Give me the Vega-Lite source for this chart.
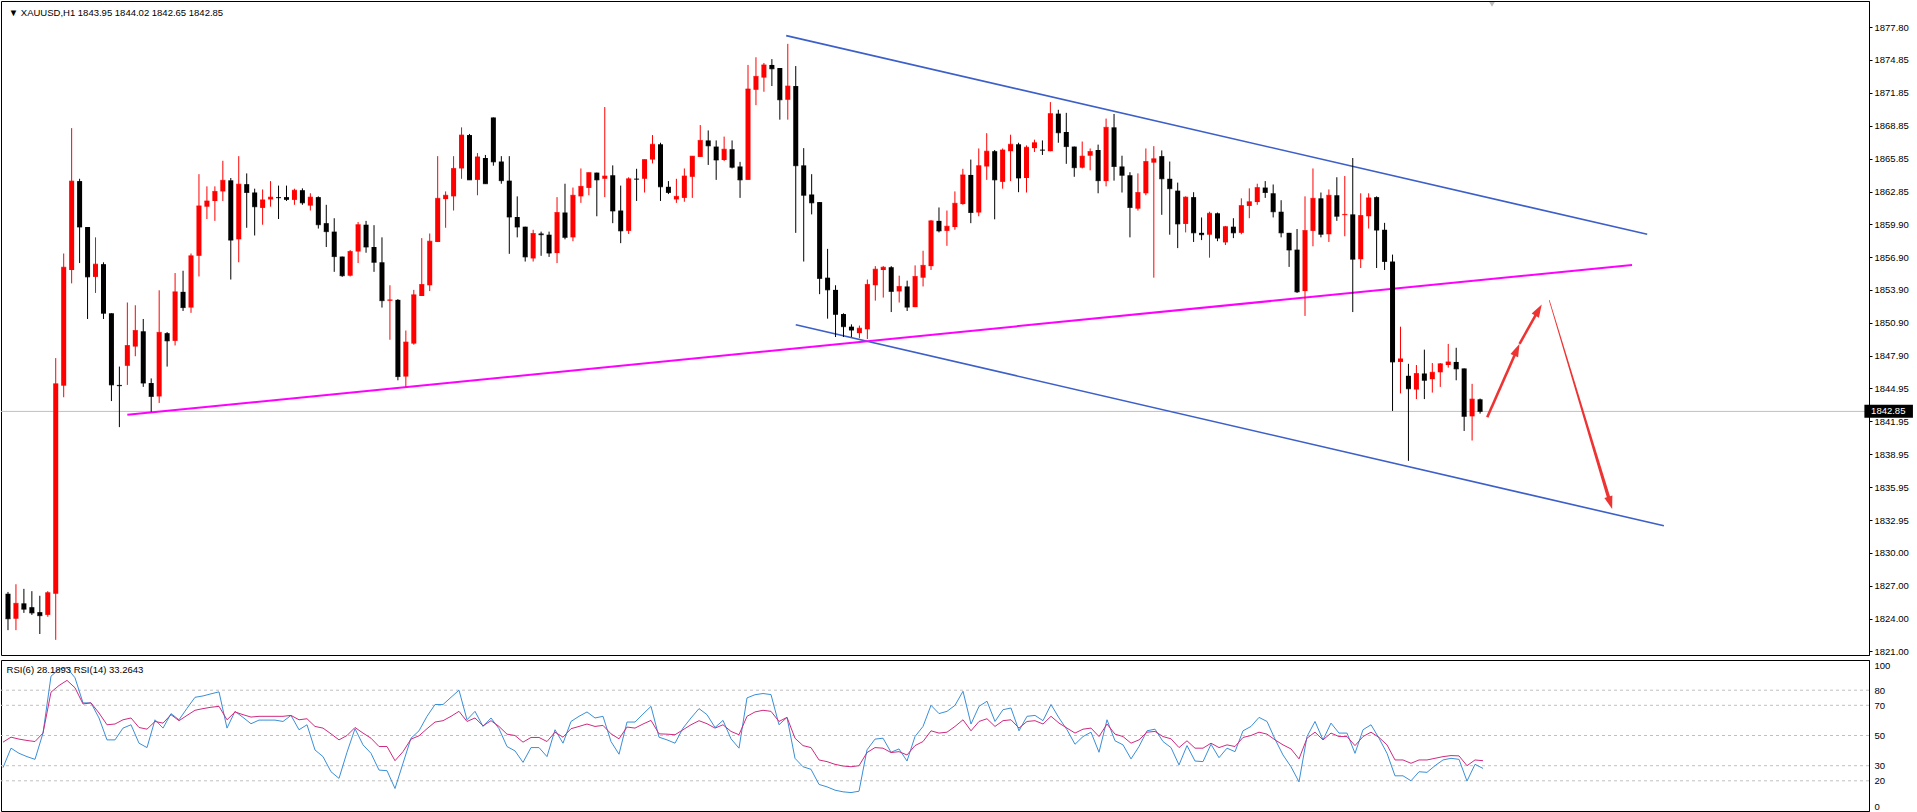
{
"$schema":"https://vega.github.io/schema/vega-lite/v6.json",
"padding":0,
"background":"#ffffff",
"spacing":2,
"config":{"view":{"stroke":"#000000","strokeWidth":1},"axis":{"labelFont":"Liberation Sans","labelFontSize":9.5,"labelColor":"#000000","domainColor":"#000000","tickColor":"#000000","grid":false,"labelOverlap":false}},
"datasets":{
"one":[{}],
"candles":[
{"i":0,"o":1826.25,"h":1826.42,"l":1822.94,"c":1823.98,"r6":28.7,"r14":45.6},
{"i":1,"o":1823.98,"h":1827.12,"l":1822.94,"c":1825.38,"r6":41.6,"r14":48.9},
{"i":2,"o":1825.38,"h":1826.70,"l":1824.51,"c":1824.85,"r6":38.2,"r14":47.6},
{"i":3,"o":1825.03,"h":1826.49,"l":1824.33,"c":1824.51,"r6":36.0,"r14":46.7},
{"i":4,"o":1824.58,"h":1826.07,"l":1822.59,"c":1824.26,"r6":34.2,"r14":46.0},
{"i":5,"o":1824.33,"h":1826.49,"l":1824.16,"c":1826.35,"r6":51.6,"r14":51.6},
{"i":6,"o":1826.25,"h":1847.70,"l":1822.06,"c":1845.36,"r6":89.3,"r14":78.7},
{"i":7,"o":1845.19,"h":1857.22,"l":1844.14,"c":1855.97,"r6":93.8,"r14":83.1},
{"i":8,"o":1855.72,"h":1868.63,"l":1854.50,"c":1863.81,"r6":94.9,"r14":86.5},
{"i":9,"o":1863.81,"h":1864.02,"l":1856.35,"c":1859.63,"r6":88.2,"r14":81.6},
{"i":10,"o":1859.63,"h":1859.63,"l":1851.26,"c":1855.09,"r6":71.6,"r14":70.9},
{"i":11,"o":1855.09,"h":1858.69,"l":1853.63,"c":1856.25,"r6":71.6,"r14":71.6},
{"i":12,"o":1856.25,"h":1856.42,"l":1851.26,"c":1851.78,"r6":61.6,"r14":64.9},
{"i":13,"o":1851.78,"h":1851.78,"l":1843.79,"c":1845.26,"r6":47.1,"r14":57.1},
{"i":14,"o":1845.26,"h":1846.93,"l":1841.42,"c":1845.19,"r6":47.1,"r14":57.6},
{"i":15,"o":1847.00,"h":1852.76,"l":1845.26,"c":1848.85,"r6":54.9,"r14":60.4},
{"i":16,"o":1848.75,"h":1852.51,"l":1847.87,"c":1850.21,"r6":57.1,"r14":61.6},
{"i":17,"o":1850.14,"h":1851.26,"l":1845.08,"c":1845.43,"r6":44.9,"r14":55.3},
{"i":18,"o":1845.43,"h":1845.85,"l":1842.82,"c":1844.21,"r6":42.0,"r14":54.2},
{"i":19,"o":1844.21,"h":1853.87,"l":1843.62,"c":1850.04,"r6":60.4,"r14":59.3},
{"i":20,"o":1849.97,"h":1850.07,"l":1846.93,"c":1849.27,"r6":54.9,"r14":58.2},
{"i":21,"o":1849.27,"h":1855.44,"l":1848.85,"c":1853.73,"r6":64.5,"r14":63.8},
{"i":22,"o":1853.73,"h":1855.65,"l":1851.99,"c":1852.30,"r6":60.4,"r14":59.8},
{"i":23,"o":1852.30,"h":1857.22,"l":1851.82,"c":1857.01,"r6":68.0,"r14":63.3},
{"i":24,"o":1857.01,"h":1864.44,"l":1855.13,"c":1861.55,"r6":75.3,"r14":66.7},
{"i":25,"o":1861.48,"h":1863.33,"l":1860.36,"c":1862.00,"r6":76.2,"r14":67.8},
{"i":26,"o":1862.00,"h":1863.33,"l":1860.19,"c":1862.87,"r6":77.6,"r14":68.7},
{"i":27,"o":1862.87,"h":1865.66,"l":1862.00,"c":1863.88,"r6":78.9,"r14":69.3},
{"i":28,"o":1863.88,"h":1864.09,"l":1854.85,"c":1858.44,"r6":54.9,"r14":60.4},
{"i":29,"o":1858.51,"h":1866.08,"l":1856.42,"c":1863.53,"r6":66.0,"r14":65.6},
{"i":30,"o":1863.53,"h":1864.51,"l":1859.56,"c":1862.77,"r6":62.0,"r14":63.8},
{"i":31,"o":1862.77,"h":1863.12,"l":1858.86,"c":1861.48,"r6":57.8,"r14":62.2},
{"i":32,"o":1861.37,"h":1863.05,"l":1859.84,"c":1862.10,"r6":60.2,"r14":62.7},
{"i":33,"o":1862.14,"h":1863.81,"l":1861.48,"c":1862.35,"r6":60.2,"r14":62.7},
{"i":34,"o":1862.35,"h":1863.40,"l":1860.36,"c":1862.30,"r6":60.2,"r14":62.7},
{"i":35,"o":1862.35,"h":1863.40,"l":1862.00,"c":1862.14,"r6":59.3,"r14":62.7},
{"i":36,"o":1862.10,"h":1863.12,"l":1861.65,"c":1862.98,"r6":63.3,"r14":63.3},
{"i":37,"o":1862.98,"h":1863.15,"l":1861.65,"c":1861.83,"r6":53.8,"r14":60.4},
{"i":38,"o":1861.58,"h":1862.70,"l":1861.13,"c":1862.35,"r6":57.1,"r14":61.1},
{"i":39,"o":1862.35,"h":1862.42,"l":1859.49,"c":1859.84,"r6":40.4,"r14":56.0},
{"i":40,"o":1859.98,"h":1861.65,"l":1857.81,"c":1859.21,"r6":36.0,"r14":54.9},
{"i":41,"o":1859.21,"h":1860.43,"l":1855.55,"c":1856.94,"r6":26.0,"r14":51.1},
{"i":42,"o":1856.94,"h":1856.94,"l":1855.09,"c":1855.20,"r6":21.6,"r14":47.1},
{"i":43,"o":1855.20,"h":1857.54,"l":1855.13,"c":1857.40,"r6":38.9,"r14":50.0},
{"i":44,"o":1857.40,"h":1860.08,"l":1856.35,"c":1859.84,"r6":54.5,"r14":55.3},
{"i":45,"o":1859.84,"h":1860.19,"l":1857.29,"c":1857.81,"r6":43.8,"r14":51.6},
{"i":46,"o":1857.81,"h":1859.80,"l":1855.55,"c":1856.42,"r6":38.2,"r14":48.2},
{"i":47,"o":1856.42,"h":1858.69,"l":1852.30,"c":1852.93,"r6":27.1,"r14":42.7},
{"i":48,"o":1852.93,"h":1854.33,"l":1849.37,"c":1853.00,"r6":26.7,"r14":42.7},
{"i":49,"o":1853.00,"h":1853.07,"l":1845.68,"c":1846.02,"r6":14.9,"r14":33.3},
{"i":50,"o":1846.02,"h":1850.21,"l":1845.08,"c":1849.16,"r6":31.6,"r14":39.3},
{"i":51,"o":1849.02,"h":1853.91,"l":1848.92,"c":1853.46,"r6":48.2,"r14":47.6},
{"i":52,"o":1853.35,"h":1858.62,"l":1853.35,"c":1854.40,"r6":53.1,"r14":49.8},
{"i":53,"o":1854.33,"h":1859.04,"l":1853.80,"c":1858.34,"r6":62.7,"r14":54.5},
{"i":54,"o":1858.27,"h":1866.08,"l":1858.27,"c":1862.24,"r6":70.5,"r14":58.9},
{"i":55,"o":1862.17,"h":1862.87,"l":1859.56,"c":1862.52,"r6":70.5,"r14":59.8},
{"i":56,"o":1862.42,"h":1866.08,"l":1861.13,"c":1864.96,"r6":75.3,"r14":62.7},
{"i":57,"o":1864.96,"h":1868.70,"l":1864.02,"c":1868.00,"r6":80.0,"r14":66.0},
{"i":58,"o":1868.00,"h":1868.10,"l":1863.92,"c":1863.92,"r6":60.4,"r14":59.3},
{"i":59,"o":1863.92,"h":1866.36,"l":1862.52,"c":1866.01,"r6":66.0,"r14":61.6},
{"i":60,"o":1865.91,"h":1866.19,"l":1863.57,"c":1863.57,"r6":56.0,"r14":56.4},
{"i":61,"o":1869.60,"h":1869.60,"l":1865.21,"c":1865.56,"r6":61.6,"r14":59.8},
{"i":62,"o":1865.59,"h":1866.08,"l":1863.57,"c":1863.85,"r6":54.5,"r14":56.0},
{"i":63,"o":1863.85,"h":1866.08,"l":1857.19,"c":1860.54,"r6":42.7,"r14":50.9},
{"i":64,"o":1860.54,"h":1862.42,"l":1858.69,"c":1859.63,"r6":39.8,"r14":50.0},
{"i":65,"o":1859.66,"h":1859.66,"l":1856.49,"c":1856.91,"r6":32.2,"r14":45.6},
{"i":66,"o":1856.77,"h":1859.38,"l":1856.49,"c":1859.04,"r6":42.0,"r14":48.7},
{"i":67,"o":1859.04,"h":1859.21,"l":1857.01,"c":1858.93,"r6":42.0,"r14":48.7},
{"i":68,"o":1858.93,"h":1859.21,"l":1856.91,"c":1857.26,"r6":36.0,"r14":46.0},
{"i":69,"o":1857.26,"h":1862.35,"l":1856.35,"c":1860.95,"r6":53.8,"r14":52.2},
{"i":70,"o":1860.95,"h":1863.57,"l":1858.51,"c":1858.69,"r6":44.9,"r14":48.9},
{"i":71,"o":1858.69,"h":1863.22,"l":1858.34,"c":1862.52,"r6":59.3,"r14":54.5},
{"i":72,"o":1862.42,"h":1864.96,"l":1861.83,"c":1863.33,"r6":62.7,"r14":56.0},
{"i":73,"o":1863.19,"h":1864.58,"l":1862.52,"c":1864.58,"r6":65.6,"r14":57.6},
{"i":74,"o":1864.58,"h":1864.58,"l":1860.61,"c":1863.92,"r6":61.6,"r14":56.0},
{"i":75,"o":1864.02,"h":1870.55,"l":1862.35,"c":1864.27,"r6":62.7,"r14":56.7},
{"i":76,"o":1864.34,"h":1865.24,"l":1859.98,"c":1861.09,"r6":46.0,"r14":51.1},
{"i":77,"o":1861.13,"h":1863.40,"l":1858.16,"c":1859.28,"r6":37.6,"r14":47.8},
{"i":78,"o":1859.28,"h":1864.16,"l":1859.00,"c":1864.02,"r6":58.9,"r14":55.6},
{"i":79,"o":1864.02,"h":1864.93,"l":1862.00,"c":1863.98,"r6":58.9,"r14":54.9},
{"i":80,"o":1864.02,"h":1865.77,"l":1862.77,"c":1865.77,"r6":64.2,"r14":57.6},
{"i":81,"o":1865.77,"h":1868.00,"l":1865.42,"c":1867.16,"r6":69.3,"r14":60.0},
{"i":82,"o":1867.16,"h":1867.30,"l":1862.00,"c":1863.29,"r6":48.9,"r14":51.1},
{"i":83,"o":1863.29,"h":1863.81,"l":1862.63,"c":1862.77,"r6":47.1,"r14":50.9},
{"i":84,"o":1862.14,"h":1864.02,"l":1861.83,"c":1862.42,"r6":44.9,"r14":50.5},
{"i":85,"o":1862.28,"h":1864.96,"l":1861.93,"c":1864.27,"r6":54.9,"r14":53.8},
{"i":86,"o":1864.20,"h":1866.08,"l":1862.28,"c":1866.08,"r6":61.6,"r14":57.1},
{"i":87,"o":1866.01,"h":1868.91,"l":1866.01,"c":1867.51,"r6":67.8,"r14":59.8},
{"i":88,"o":1867.51,"h":1868.42,"l":1865.28,"c":1867.02,"r6":63.8,"r14":57.8},
{"i":89,"o":1866.95,"h":1867.51,"l":1863.92,"c":1865.73,"r6":55.3,"r14":54.9},
{"i":90,"o":1865.73,"h":1867.86,"l":1865.63,"c":1866.71,"r6":60.0,"r14":57.1},
{"i":91,"o":1866.71,"h":1867.51,"l":1864.96,"c":1865.07,"r6":47.8,"r14":52.7},
{"i":92,"o":1865.14,"h":1865.56,"l":1862.28,"c":1863.92,"r6":41.6,"r14":50.5},
{"i":93,"o":1863.92,"h":1874.38,"l":1863.92,"c":1872.19,"r6":74.9,"r14":62.7},
{"i":94,"o":1872.12,"h":1875.08,"l":1870.72,"c":1873.34,"r6":77.0,"r14":65.6},
{"i":95,"o":1873.23,"h":1874.56,"l":1871.94,"c":1874.38,"r6":77.8,"r14":66.7},
{"i":96,"o":1874.38,"h":1874.91,"l":1872.46,"c":1874.03,"r6":77.1,"r14":66.0},
{"i":97,"o":1874.10,"h":1874.10,"l":1869.40,"c":1871.21,"r6":57.1,"r14":59.3},
{"i":98,"o":1871.21,"h":1876.30,"l":1869.40,"c":1872.46,"r6":62.0,"r14":62.0},
{"i":99,"o":1872.46,"h":1874.28,"l":1859.10,"c":1865.21,"r6":34.9,"r14":48.2},
{"i":100,"o":1865.24,"h":1866.81,"l":1856.49,"c":1862.52,"r6":29.3,"r14":43.3},
{"i":101,"o":1862.59,"h":1864.44,"l":1860.78,"c":1861.83,"r6":27.6,"r14":42.0},
{"i":102,"o":1861.90,"h":1861.90,"l":1853.52,"c":1854.95,"r6":17.6,"r14":33.8},
{"i":103,"o":1855.02,"h":1857.64,"l":1851.29,"c":1853.91,"r6":16.0,"r14":32.7},
{"i":104,"o":1853.91,"h":1854.33,"l":1849.62,"c":1851.68,"r6":13.8,"r14":30.9},
{"i":105,"o":1851.71,"h":1851.78,"l":1849.62,"c":1850.56,"r6":12.7,"r14":29.8},
{"i":106,"o":1850.56,"h":1850.77,"l":1849.62,"c":1850.25,"r6":12.2,"r14":29.3},
{"i":107,"o":1849.97,"h":1850.66,"l":1849.51,"c":1850.42,"r6":13.1,"r14":30.0},
{"i":108,"o":1850.32,"h":1854.85,"l":1849.44,"c":1854.40,"r6":40.5,"r14":38.7},
{"i":109,"o":1854.33,"h":1856.07,"l":1852.93,"c":1855.79,"r6":47.6,"r14":42.0},
{"i":110,"o":1855.72,"h":1856.07,"l":1853.21,"c":1855.97,"r6":48.2,"r14":41.6},
{"i":111,"o":1855.97,"h":1856.07,"l":1851.89,"c":1853.77,"r6":38.9,"r14":38.7},
{"i":112,"o":1853.77,"h":1855.20,"l":1852.76,"c":1854.22,"r6":41.1,"r14":39.3},
{"i":113,"o":1854.22,"h":1854.75,"l":1851.99,"c":1852.34,"r6":33.1,"r14":37.1},
{"i":114,"o":1852.34,"h":1856.14,"l":1852.34,"c":1855.13,"r6":49.3,"r14":43.3},
{"i":115,"o":1855.02,"h":1857.47,"l":1854.22,"c":1856.14,"r6":56.0,"r14":46.0},
{"i":116,"o":1856.07,"h":1860.26,"l":1855.72,"c":1860.19,"r6":70.0,"r14":53.1},
{"i":117,"o":1860.19,"h":1861.41,"l":1859.14,"c":1859.28,"r6":64.5,"r14":51.6},
{"i":118,"o":1859.28,"h":1861.13,"l":1857.92,"c":1859.70,"r6":66.0,"r14":52.2},
{"i":119,"o":1859.63,"h":1862.87,"l":1859.38,"c":1861.79,"r6":70.0,"r14":56.0},
{"i":120,"o":1861.72,"h":1864.93,"l":1861.65,"c":1864.37,"r6":79.3,"r14":60.4},
{"i":121,"o":1864.37,"h":1865.77,"l":1859.98,"c":1860.95,"r6":57.6,"r14":53.1},
{"i":122,"o":1860.95,"h":1866.78,"l":1860.61,"c":1865.21,"r6":69.3,"r14":59.3},
{"i":123,"o":1865.14,"h":1868.17,"l":1863.92,"c":1866.53,"r6":72.7,"r14":61.1},
{"i":124,"o":1866.53,"h":1866.64,"l":1860.33,"c":1863.92,"r6":59.3,"r14":56.0},
{"i":125,"o":1863.74,"h":1866.78,"l":1863.12,"c":1866.64,"r6":67.1,"r14":59.8},
{"i":126,"o":1866.53,"h":1868.03,"l":1863.81,"c":1867.16,"r6":68.2,"r14":60.4},
{"i":127,"o":1867.16,"h":1867.30,"l":1862.80,"c":1864.09,"r6":53.1,"r14":54.9},
{"i":128,"o":1864.09,"h":1867.06,"l":1862.77,"c":1866.88,"r6":62.7,"r14":59.3},
{"i":129,"o":1866.81,"h":1867.58,"l":1866.46,"c":1867.30,"r6":63.3,"r14":59.8},
{"i":130,"o":1866.66,"h":1867.51,"l":1866.19,"c":1866.62,"r6":59.8,"r14":57.6},
{"i":131,"o":1866.53,"h":1871.00,"l":1866.53,"c":1869.95,"r6":70.5,"r14":62.7},
{"i":132,"o":1869.95,"h":1870.30,"l":1867.30,"c":1868.21,"r6":61.6,"r14":58.2},
{"i":133,"o":1868.28,"h":1870.02,"l":1865.38,"c":1866.95,"r6":53.8,"r14":54.9},
{"i":134,"o":1866.95,"h":1866.95,"l":1864.20,"c":1865.03,"r6":44.2,"r14":51.6},
{"i":135,"o":1865.03,"h":1867.41,"l":1864.96,"c":1866.08,"r6":49.3,"r14":54.2},
{"i":136,"o":1866.12,"h":1866.78,"l":1864.79,"c":1866.50,"r6":52.2,"r14":54.9},
{"i":137,"o":1866.64,"h":1867.13,"l":1862.70,"c":1863.85,"r6":38.9,"r14":49.3},
{"i":138,"o":1863.81,"h":1869.50,"l":1863.33,"c":1868.70,"r6":60.4,"r14":57.6},
{"i":139,"o":1868.70,"h":1869.92,"l":1863.85,"c":1865.14,"r6":46.5,"r14":50.9},
{"i":140,"o":1865.14,"h":1866.12,"l":1862.77,"c":1864.34,"r6":43.8,"r14":49.3},
{"i":141,"o":1864.34,"h":1864.62,"l":1858.69,"c":1861.41,"r6":34.5,"r14":44.9},
{"i":142,"o":1861.30,"h":1864.51,"l":1861.13,"c":1862.77,"r6":42.7,"r14":47.1},
{"i":143,"o":1862.70,"h":1866.78,"l":1862.52,"c":1865.59,"r6":53.1,"r14":52.2},
{"i":144,"o":1865.49,"h":1866.99,"l":1855.02,"c":1865.84,"r6":54.2,"r14":52.7},
{"i":145,"o":1866.08,"h":1866.60,"l":1860.74,"c":1864.02,"r6":46.0,"r14":49.3},
{"i":146,"o":1864.02,"h":1865.59,"l":1858.93,"c":1863.12,"r6":42.0,"r14":47.8},
{"i":147,"o":1862.94,"h":1863.67,"l":1857.71,"c":1859.91,"r6":30.5,"r14":42.0},
{"i":148,"o":1859.91,"h":1862.42,"l":1859.14,"c":1862.35,"r6":43.3,"r14":46.5},
{"i":149,"o":1862.35,"h":1862.80,"l":1858.27,"c":1859.10,"r6":33.1,"r14":41.6},
{"i":150,"o":1859.10,"h":1860.50,"l":1858.44,"c":1858.93,"r6":32.7,"r14":41.6},
{"i":151,"o":1858.93,"h":1861.02,"l":1856.84,"c":1860.88,"r6":44.2,"r14":44.9},
{"i":152,"o":1860.88,"h":1860.95,"l":1858.34,"c":1858.62,"r6":35.3,"r14":42.0},
{"i":153,"o":1858.23,"h":1859.73,"l":1857.99,"c":1859.66,"r6":41.6,"r14":43.8},
{"i":154,"o":1859.66,"h":1860.43,"l":1858.62,"c":1859.10,"r6":39.3,"r14":42.7},
{"i":155,"o":1859.10,"h":1862.24,"l":1858.97,"c":1861.58,"r6":53.1,"r14":48.7},
{"i":156,"o":1861.55,"h":1863.15,"l":1860.43,"c":1861.93,"r6":56.0,"r14":50.0},
{"i":157,"o":1861.90,"h":1863.57,"l":1861.65,"c":1863.22,"r6":62.0,"r14":52.2},
{"i":158,"o":1863.22,"h":1863.81,"l":1862.28,"c":1862.77,"r6":59.3,"r14":50.9},
{"i":159,"o":1862.70,"h":1863.50,"l":1860.50,"c":1861.02,"r6":47.6,"r14":47.1},
{"i":160,"o":1861.02,"h":1862.07,"l":1858.69,"c":1859.10,"r6":37.1,"r14":43.8},
{"i":161,"o":1859.10,"h":1859.10,"l":1856.00,"c":1857.54,"r6":29.3,"r14":41.1},
{"i":162,"o":1857.57,"h":1859.45,"l":1853.63,"c":1853.73,"r6":19.3,"r14":34.5},
{"i":163,"o":1853.80,"h":1862.42,"l":1851.54,"c":1859.31,"r6":49.3,"r14":48.2},
{"i":164,"o":1859.28,"h":1864.96,"l":1857.88,"c":1862.24,"r6":59.3,"r14":52.2},
{"i":165,"o":1862.24,"h":1862.77,"l":1858.69,"c":1858.97,"r6":47.1,"r14":47.1},
{"i":166,"o":1858.97,"h":1863.05,"l":1858.27,"c":1862.52,"r6":58.2,"r14":51.6},
{"i":167,"o":1862.52,"h":1864.16,"l":1860.19,"c":1860.61,"r6":51.6,"r14":49.3},
{"i":168,"o":1860.71,"h":1864.27,"l":1858.79,"c":1860.78,"r6":51.6,"r14":49.3},
{"i":169,"o":1860.78,"h":1865.91,"l":1851.89,"c":1856.70,"r6":38.2,"r14":43.3},
{"i":170,"o":1856.70,"h":1862.70,"l":1855.90,"c":1860.68,"r6":53.8,"r14":49.3},
{"i":171,"o":1860.61,"h":1862.70,"l":1859.49,"c":1862.28,"r6":57.1,"r14":52.2},
{"i":172,"o":1862.35,"h":1862.42,"l":1855.90,"c":1859.35,"r6":48.2,"r14":48.7},
{"i":173,"o":1859.38,"h":1860.01,"l":1855.72,"c":1856.49,"r6":38.2,"r14":43.8},
{"i":174,"o":1856.49,"h":1857.12,"l":1842.89,"c":1847.35,"r6":23.3,"r14":33.8},
{"i":175,"o":1847.35,"h":1850.56,"l":1844.49,"c":1847.63,"r6":23.3,"r14":33.8},
{"i":176,"o":1846.09,"h":1847.18,"l":1838.35,"c":1844.91,"r6":20.0,"r14":31.6},
{"i":177,"o":1844.84,"h":1847.07,"l":1843.97,"c":1846.30,"r6":26.0,"r14":33.8},
{"i":178,"o":1846.30,"h":1848.47,"l":1843.97,"c":1845.68,"r6":25.6,"r14":33.8},
{"i":179,"o":1845.78,"h":1847.25,"l":1844.56,"c":1846.41,"r6":30.0,"r14":34.9},
{"i":180,"o":1846.41,"h":1847.25,"l":1845.08,"c":1847.18,"r6":33.8,"r14":36.0},
{"i":181,"o":1847.07,"h":1848.99,"l":1846.83,"c":1847.35,"r6":34.9,"r14":36.7},
{"i":182,"o":1847.35,"h":1848.64,"l":1845.68,"c":1846.72,"r6":34.2,"r14":36.5},
{"i":183,"o":1846.76,"h":1846.76,"l":1841.07,"c":1842.40,"r6":19.8,"r14":30.0},
{"i":184,"o":1842.40,"h":1845.36,"l":1840.20,"c":1843.97,"r6":30.9,"r14":33.8},
{"i":185,"o":1843.95,"h":1844.02,"l":1842.65,"c":1842.85,"r6":28.2,"r14":33.3}
],
"trend":[
{"g":"up","i":97.8,"p":1877.05},{"g":"up","i":206.0,"p":1858.97},
{"g":"lo","i":99.0,"p":1850.74},{"g":"lo","i":208.1,"p":1832.44},
{"g":"mg","i":15.0,"p":1842.54},{"g":"mg","i":204.1,"p":1856.17}
],
"segs":[
{"i":185.9,"p":1842.31,"i2":189.56,"p2":1848.33},
{"i":189.96,"p":1849.0,"i2":192.25,"p2":1851.95}
],
"drop":[{"i":193.7,"p":1852.95},{"i":201.27,"p":1834.74}],
"heads":[
{"k":"a","i":189.96,"p":1849.0},
{"k":"b","i":192.75,"p":1852.59},
{"k":"c","i":201.6,"p":1833.96}
],
"levels":[{"v":80},{"v":70},{"v":50},{"v":30},{"v":20}]
},
"vconcat":[
{
"width":1868,"height":654,
"layer":[
{"data":{"name":"one"},"mark":{"type":"rule","color":"#c0c0c0","strokeWidth":1},
 "encoding":{"y":{"datum":1842.85,"type":"quantitative","title":null,"scale":{"domain":[1820.68,1880.2],"nice":false,"zero":false},
   "axis":{"orient":"right","title":null,"values":[1821.00,1824.00,1827.00,1830.00,1832.95,1835.95,1838.95,1841.95,1844.95,1847.90,1850.90,1853.90,1856.90,1859.90,1862.85,1865.85,1868.85,1871.85,1874.85,1877.80],"tickCount":200,"format":".2f","tickSize":3,"labelPadding":2,"grid":false,"labelOverlap":false}}}},
{"data":{"name":"trend"},"transform":[{"filter":"datum.g != 'mg'"}],
 "mark":{"type":"line","color":"#3d5fc8","strokeWidth":1.6},
 "encoding":{"x":{"field":"i","type":"quantitative","axis":null},"y":{"field":"p","type":"quantitative","title":null},"detail":{"field":"g"}}},
{"data":{"name":"trend"},"transform":[{"filter":"datum.g == 'mg'"}],
 "mark":{"type":"line","color":"#ff00ff","strokeWidth":2},
 "encoding":{"x":{"field":"i","type":"quantitative","axis":null},"y":{"field":"p","type":"quantitative","title":null}}},
{"data":{"name":"candles"},
 "mark":{"type":"rule","strokeWidth":1},
 "encoding":{
  "x":{"field":"i","type":"quantitative","scale":{"domain":[-0.25,233.25],"nice":false,"zero":false},"axis":null},
  "y":{"field":"h","type":"quantitative","title":null},
  "y2":{"field":"l"},
  "color":{"condition":{"test":"datum.c >= datum.o","value":"#ff0000"},"value":"#000000"}}},
{"data":{"name":"candles"},
 "mark":{"type":"bar","size":5,"orient":"vertical"},
 "encoding":{
  "x":{"field":"i","type":"quantitative","axis":null},
  "y":{"field":"o","type":"quantitative","title":null},
  "y2":{"field":"c"},
  "color":{"condition":{"test":"datum.c >= datum.o","value":"#ff0000"},"value":"#000000"}}},
{"data":{"name":"candles"},
 "mark":{"type":"tick","orient":"horizontal","size":5,"thickness":1},
 "encoding":{
  "x":{"field":"i","type":"quantitative","axis":null},
  "y":{"field":"c","type":"quantitative","title":null},
  "color":{"condition":{"test":"datum.c >= datum.o","value":"#ff0000"},"value":"#000000"}}},
{"data":{"name":"segs"},
 "mark":{"type":"rule","color":"#ee3333","strokeWidth":2.6},
 "encoding":{"x":{"field":"i","type":"quantitative","axis":null},"y":{"field":"p","type":"quantitative","title":null},"x2":{"field":"i2"},"y2":{"field":"p2"}}},
{"data":{"name":"drop"},
 "mark":{"type":"trail","color":"#ee3333"},
 "encoding":{"x":{"field":"i","type":"quantitative","axis":null},"y":{"field":"p","type":"quantitative","title":null},
  "size":{"field":"p","type":"quantitative","scale":{"domain":[1852.95,1834.74],"range":[0.7,3.4]},"legend":null}}},
{"data":{"name":"heads"},"transform":[{"filter":"datum.k == 'a'"}],
 "mark":{"type":"point","shape":"M0,0L0.55,1.7L-0.55,1.7Z","filled":true,"color":"#ee3333","opacity":1,"size":230,"angle":24},
 "encoding":{"x":{"field":"i","type":"quantitative","axis":null},"y":{"field":"p","type":"quantitative","title":null}}},
{"data":{"name":"heads"},"transform":[{"filter":"datum.k == 'b'"}],
 "mark":{"type":"point","shape":"M0,0L0.55,1.7L-0.55,1.7Z","filled":true,"color":"#ee3333","opacity":1,"size":230,"angle":30},
 "encoding":{"x":{"field":"i","type":"quantitative","axis":null},"y":{"field":"p","type":"quantitative","title":null}}},
{"data":{"name":"heads"},"transform":[{"filter":"datum.k == 'c'"}],
 "mark":{"type":"point","shape":"M0,0L0.55,1.7L-0.55,1.7Z","filled":true,"color":"#ee3333","opacity":1,"size":230,"angle":163},
 "encoding":{"x":{"field":"i","type":"quantitative","axis":null},"y":{"field":"p","type":"quantitative","title":null}}},
{"data":{"name":"one"},"mark":{"type":"text","align":"left","baseline":"middle","font":"Liberation Sans","fontSize":9.5,"color":"#000000"},
 "encoding":{"x":{"datum":0.1,"type":"quantitative","axis":null},"y":{"datum":1879.1,"type":"quantitative","title":null},"text":{"value":"▼ XAUUSD,H1  1843.95 1844.02 1842.65 1842.85"}}},
{"data":{"name":"one"},"mark":{"type":"point","shape":"triangle-down","filled":true,"color":"#a0a0a0","size":30},
 "encoding":{"x":{"datum":186.5,"type":"quantitative","axis":null},"y":{"datum":1879.9,"type":"quantitative","title":null}}},
{"data":{"name":"one"},"mark":{"type":"rect","color":"#000000"},
 "encoding":{"x":{"datum":233.3,"type":"quantitative","axis":null},"x2":{"datum":239.4},"y":{"datum":1843.45,"type":"quantitative","title":null},"y2":{"datum":1842.27}}},
{"data":{"name":"one"},"mark":{"type":"text","align":"center","baseline":"middle","font":"Liberation Sans","fontSize":9.5,"color":"#ffffff"},
 "encoding":{"x":{"datum":236.3,"type":"quantitative","axis":null},"y":{"datum":1842.85,"type":"quantitative","title":null},"text":{"value":"1842.85"}}}
]
},
{
"width":1868,"height":151,
"layer":[
{"data":{"name":"levels"},
 "mark":{"type":"rule","color":"#c0c0c0","strokeWidth":1,"strokeDash":[3,3]},
 "encoding":{"y":{"field":"v","type":"quantitative","title":null,"scale":{"domain":[0,100],"nice":false,"zero":false},
   "axis":{"orient":"right","title":null,"values":[0,20,30,50,70,80,100],"tickCount":50,"ticks":false,"labelPadding":5,"labelFlush":true,"grid":false,"labelOverlap":false}}}},
{"data":{"name":"candles"},
 "mark":{"type":"line","color":"#3a8fd8","strokeWidth":1},
 "encoding":{
  "x":{"field":"i","type":"quantitative","scale":{"domain":[-0.25,233.25],"nice":false,"zero":false},"axis":null},
  "y":{"field":"r6","type":"quantitative","title":null}}},
{"data":{"name":"candles"},
 "mark":{"type":"line","color":"#d02a80","strokeWidth":1},
 "encoding":{"x":{"field":"i","type":"quantitative","axis":null},"y":{"field":"r14","type":"quantitative","title":null}}},
{"data":{"name":"one"},"mark":{"type":"text","align":"left","baseline":"middle","font":"Liberation Sans","fontSize":9.5,"color":"#000000"},
 "encoding":{"x":{"datum":0.45,"type":"quantitative","axis":null},"y":{"datum":93.6,"type":"quantitative","title":null},"text":{"value":"RSI(6) 28.1893  RSI(14) 33.2643"}}}
]
}
]
}
